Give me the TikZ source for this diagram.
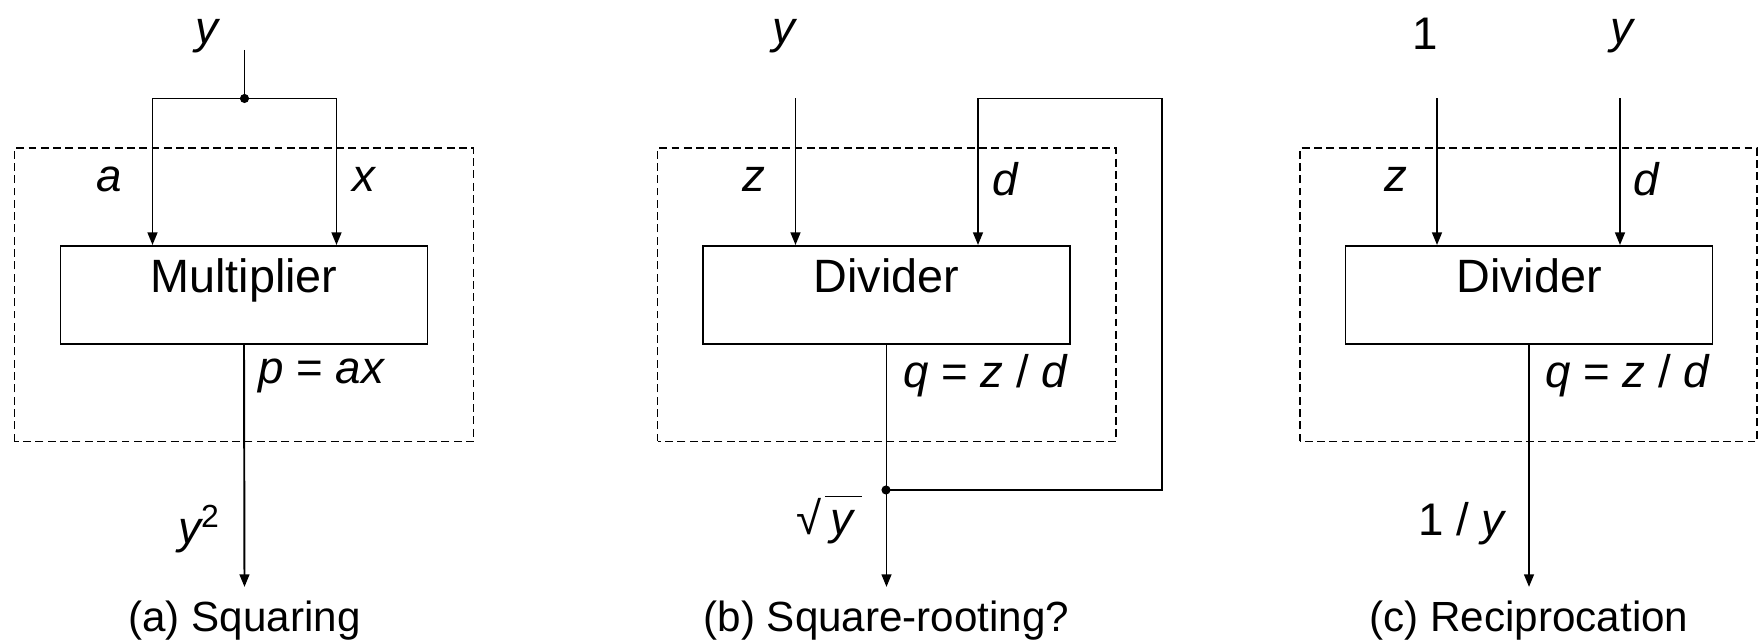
\documentclass[tikz,border=0pt]{standalone}
\usepackage{fontspec}
\setmainfont{Liberation Sans}
\usetikzlibrary{positioning,arrows.meta,calc}

\begin{document}
\begin{tikzpicture}[x=1cm,y=1cm,>={Triangle[length=7.2pt,width=5.6pt]},
    wire/.style={line width=1.1pt},
    unit/.style={draw,line width=1.1pt,minimum width=7.34cm,minimum height=1.96cm,inner sep=2pt,
      text height=0.67cm,text depth=0.75cm,font=\fontsize{26.6}{30}\selectfont},
    frame/.style={line width=0.75pt,dash pattern=on 4.5pt off 2.5pt},
    sig/.style={font=\fontsize{26}{30}\selectfont\itshape},
    caption/.style={font=\fontsize{24}{28}\selectfont,inner sep=8pt}]
    \useasboundingbox (0,0) rectangle (35.18,12.82);
    \fill[white] (0,0) rectangle (35.18,12.82);
    
    % (a) Squaring
    \draw[frame] (0.29,3.99) rectangle (9.47,9.86);
    \node[unit] (mul) at (4.88,6.92) {Multiplier};
    \coordinate (inA) at (4.89,11.82);
    \coordinate (jA) at (4.89,10.85);
    \node[sig] (yA) at (4.14,12.1) {y};
    \node[caption] (capA) at (4.89,0.4) {(a) Squaring};
    
    \draw[wire] (inA) -- (jA);
    \draw[wire,->] (jA) -| ($(mul.north)+(-1.83,0)$);
    \draw[wire,->] (jA) -| ($(mul.north)+(1.85,0)$);
    \fill (jA) circle (2.6pt);
    \draw[wire,->] (mul.south) -- (capA.north);
    
    \node[sig] (aA) at (2.19,9.24) {a};
    \node[sig] (xA) at (7.27,9.24) {x};
    \node[sig,anchor=west,inner sep=0pt] (pA) at (5.16,5.3) {p {\upshape =} ax};
    \node[sig] (outA) at (3.98,2.24) {y\textsuperscript{\upshape 2}};
    
    % (b) Square-rooting?
    \draw[frame] (13.15,3.99) rectangle (22.32,9.86);
    \node[unit] (divB) at (17.73,6.92) {Divider};
    \coordinate (inB) at (15.91,10.85);
    \coordinate (jB) at (17.72,3.02);
    \coordinate (fbB) at (23.24,10.85);
    \node[sig] (yB) at (15.67,12.1) {y};
    \node[caption] (capB) at (17.73,0.4) {(b) Square-rooting?};
    
    \draw[wire,->] (inB) -- (inB |- divB.north);
    \draw[wire,->] (jB) -| (fbB) -| ($(divB.north)+(1.83,0)$);
    \draw[wire,->] (divB.south) -- (capB.north);
    \fill (jB) circle (2.6pt);
    
    \node[sig] (zB) at (15.08,9.24) {z};
    \node[sig] (dB) at (20.11,9.24) {d};
    \node[sig,anchor=west,inner sep=0pt] (qB) at (18.06,5.3) {q {\upshape =} z {\upshape /} d};
    \node[sig] (outB) at (16.58,2.42)
      {{\upshape √}\kern2pt\vbox{\hrule height 1pt\kern7.5pt\hbox{\kern3pt y\kern5pt}}};
    
    % (c) Reciprocation
    \draw[frame] (26.0,3.99) rectangle (35.14,9.86);
    \node[unit] (divC) at (30.58,6.92) {Divider};
    \coordinate (inC) at (28.74,10.85);
    \coordinate (inD) at (32.4,10.85);
    \node[sig,font=\fontsize{26}{30}\selectfont] (oneC) at (28.5,12.14) {1};
    \node[sig] (yC) at (32.43,12.1) {y};
    \node[caption] (capC) at (30.58,0.4) {(c) Reciprocation};
    
    \draw[wire,->] (inC) -- (inC |- divC.north);
    \draw[wire,->] (inD) -- (inD |- divC.north);
    \draw[wire,->] (divC.south) -- (capC.north);
    
    \node[sig] (zC) at (27.92,9.24) {z};
    \node[sig] (dC) at (32.93,9.24) {d};
    \node[sig,anchor=west,inner sep=0pt] (qC) at (30.9,5.3) {q {\upshape =} z {\upshape /} d};
    \node[sig] (outC) at (29.23,2.35) {{\upshape 1 /} y};
\end{tikzpicture}
\end{document}
